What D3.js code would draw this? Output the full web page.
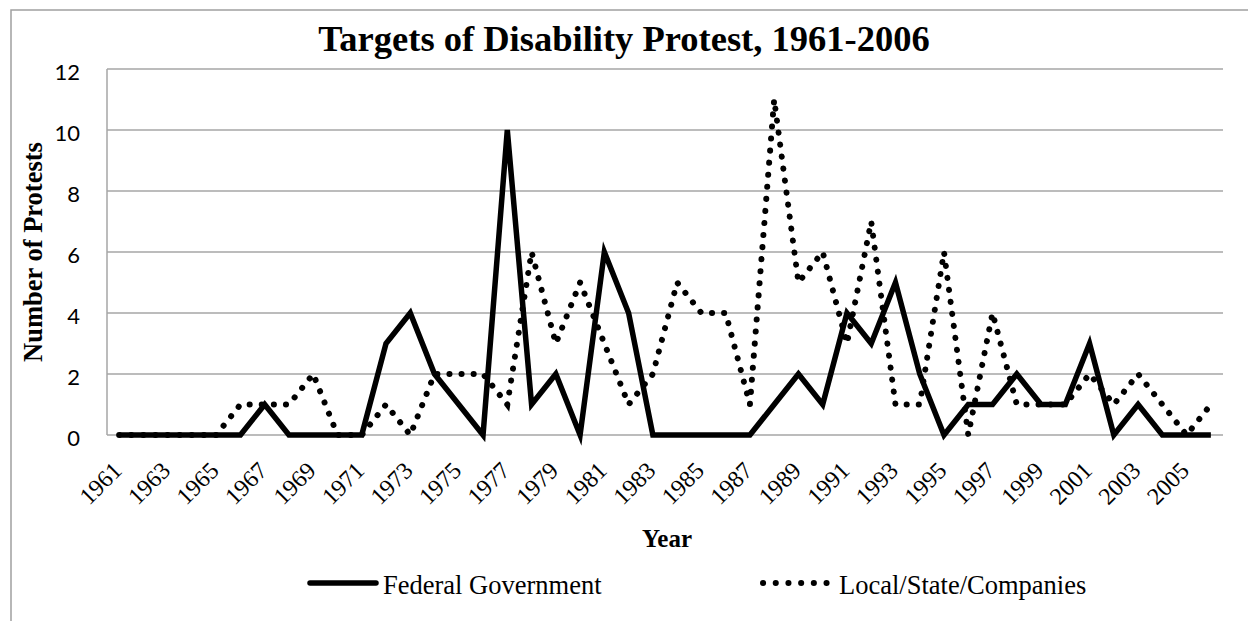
<!DOCTYPE html>
<html>
<head>
<meta charset="utf-8">
<script src="https://cdn.jsdelivr.net/npm/d3@7"></script>
<style>
  html, body { margin: 0; padding: 0; background: #fff; }
  svg { display: block; }
</style>
</head>
<body>
<svg id="chart" width="1248" height="621"></svg>
<script>
const years = d3.range(1961, 2007);
const federalGovernment = [0,0,0,0,0,0,1,0,0,0,0,3,4,2,1,0,10,1,2,0,6,4,0,0,0,0,0,1,2,1,4,3,5,2,0,1,1,2,1,1,3,0,1,0,0,0];
const localStateCompanies = [0,0,0,0,0,1,1,1,2,0,0,1,0,2,2,2,1,6,3,5,3,1,2,5,4,4,1,11,5,6,3,7,1,1,6,0,4,1,1,1,2,1,2,1,0,1];
const yTicks = [0,2,4,6,8,10,12];
const xTickLabels = d3.range(1961, 2006, 2);
const seriesNames = ["Federal Government", "Local/State/Companies"];
const titleText = "Targets of Disability Protest, 1961-2006";
const yTitle = "Number of Protests";
const xTitle = "Year";

const serif = "'Liberation Serif', 'Times New Roman', Times, serif";
const svg = d3.select("#chart");
const plot = {left: 107, right: 1223, top: 69, bottom: 435};

const x = d3.scalePoint().domain(years).range([plot.left, plot.right]).padding(0.5);
const y = d3.scaleLinear().domain([0, 12]).range([plot.bottom, plot.top]);

// outer chart border
svg.append("rect")
  .attr("x", 11).attr("y", 10).attr("width", 1400).attr("height", 800)
  .attr("fill", "#fff").attr("stroke", "#a0a0a0").attr("stroke-width", 1.5);

// gridlines
svg.append("g").selectAll("line").data(yTicks).join("line")
  .attr("x1", plot.left).attr("x2", plot.right)
  .attr("y1", d => y(d)).attr("y2", d => y(d))
  .attr("stroke", "#a6a6a6").attr("stroke-width", 1.5);

// y axis line
svg.append("line")
  .attr("x1", plot.left).attr("x2", plot.left)
  .attr("y1", plot.top).attr("y2", plot.bottom)
  .attr("stroke", "#a6a6a6").attr("stroke-width", 1.5);

// y axis labels
const yAxis = d3.axisLeft(y).tickValues(yTicks).tickSize(0).tickPadding(0);
const gy = svg.append("g").attr("transform", `translate(${80},0)`).call(yAxis);
gy.select(".domain").remove();
gy.attr("font-family", "Lato, 'Open Sans', sans-serif").attr("font-size", 22);
gy.selectAll("text")
  .attr("fill", "#000")
  .attr("dy", "0.35em")
  .attr("y", 3);

// x axis labels
const xAxis = d3.axisBottom(x).tickValues(xTickLabels).tickSize(0);
const gx = svg.append("g").call(xAxis);
gx.select(".domain").remove();
gx.attr("font-family", serif).attr("font-size", 24);
gx.selectAll(".tick").attr("transform", d => `translate(${x(d) + 4},472)`);
gx.selectAll("text")
  .attr("fill", "#000")
  .attr("text-anchor", "end")
  .attr("x", 0).attr("y", 0).attr("dy", 0)
  .attr("transform", "rotate(-45)");

// lines
const line = d3.line().x((d, i) => x(years[i])).y(d => y(d));
svg.append("path").datum(federalGovernment)
  .attr("d", line).attr("fill", "none")
  .attr("stroke", "#000").attr("stroke-width", 5.5)
  .attr("stroke-linejoin", "miter").attr("stroke-linecap", "butt");
svg.append("path").datum(localStateCompanies)
  .attr("d", line).attr("fill", "none")
  .attr("stroke", "#000").attr("stroke-width", 6)
  .attr("stroke-dasharray", "0.1 12")
  .attr("stroke-linecap", "round");

// title
svg.append("text")
  .attr("x", 624).attr("y", 51)
  .attr("text-anchor", "middle")
  .attr("font-family", serif)
  .attr("font-weight", "bold").attr("font-size", 36.5)
  .text(titleText);

// y title
svg.append("text")
  .attr("transform", "translate(42,252) rotate(-90)")
  .attr("text-anchor", "middle")
  .attr("font-family", serif)
  .attr("font-weight", "bold").attr("font-size", 26.5)
  .text(yTitle);

// x title
svg.append("text")
  .attr("x", 667).attr("y", 547)
  .attr("text-anchor", "middle")
  .attr("font-family", serif)
  .attr("font-weight", "bold").attr("font-size", 25)
  .text(xTitle);

// legend
const legend = svg.append("g");
legend.append("line")
  .attr("x1", 310).attr("x2", 376).attr("y1", 583).attr("y2", 583)
  .attr("stroke", "#000").attr("stroke-width", 5.5).attr("stroke-linecap", "round");
legend.append("text")
  .attr("x", 383).attr("y", 594)
  .attr("font-family", serif)
  .attr("font-size", 26.5)
  .text(seriesNames[0]);
legend.append("line")
  .attr("x1", 763).attr("x2", 827).attr("y1", 583).attr("y2", 583)
  .attr("stroke", "#000").attr("stroke-width", 6)
  .attr("stroke-dasharray", "0.1 12.6").attr("stroke-linecap", "round");
legend.append("text")
  .attr("x", 839).attr("y", 594)
  .attr("font-family", serif)
  .attr("font-size", 26.5)
  .text(seriesNames[1]);
</script>
</body>
</html>
